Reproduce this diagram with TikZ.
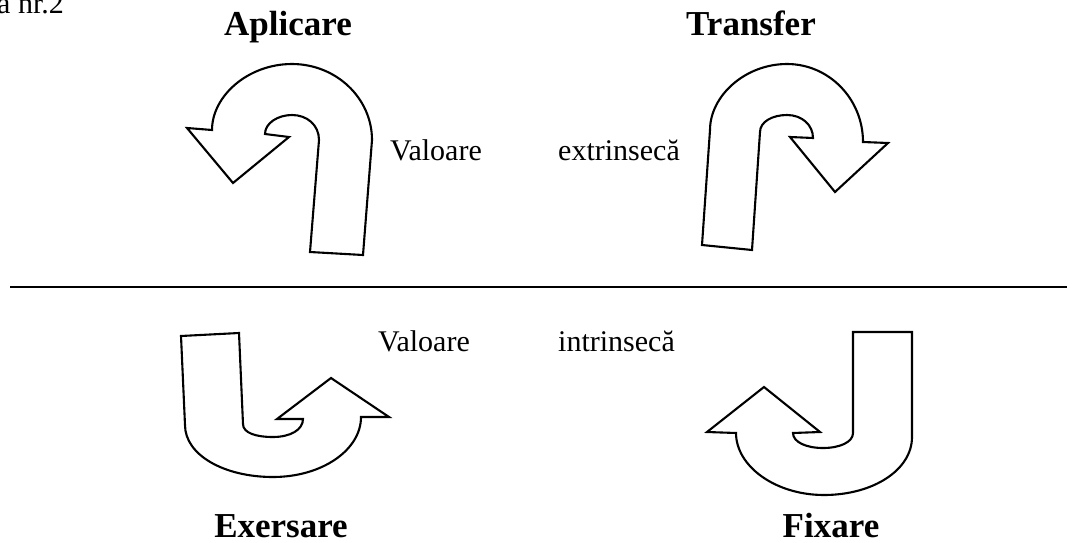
\documentclass[tikz,border=0pt]{standalone}
\usepackage{fontspec}
\setmainfont{Liberation Serif}
\begin{document}
\begin{tikzpicture}[x=1pt,y=-1pt,
  title/.style={font=\fontsize{35}{40}\selectfont\bfseries, inner sep=0pt, anchor=base},
  lbl/.style={font=\fontsize{30}{34}\selectfont, inner sep=0pt, anchor=base west},
  uarrow/.style={draw=black, line width=2.1pt, line join=miter, fill=white}]
\useasboundingbox (0,0) rectangle (1078,543);

% header fragment (cut at the top edge, as in the source)
\node[lbl] (hdr) at (-3,14) {a nr.2};

% titles
\node[title] (aplicare) at (288,36) {Aplicare};
\node[title] (transfer) at (751,36) {Transfer};
\node[title] (exersare) at (281,537) {Exersare};
\node[title] (fixare) at (831,537) {Fixare};

% labels
\node[lbl] (val1) at (390,160) {Valoare};
\node[lbl] (extr) at (558,160) {extrinsecă};
\node[lbl] (val2) at (378,351) {Valoare};
\node[lbl] (intr) at (558,351) {intrinsecă};

% separator
\coordinate (sepL) at (10,287);
\coordinate (sepR) at (1067,287);
\draw[line width=2.4pt] (sepL) -- (sepR);

% Aplicare arrow (U-turn to the left, pointing down)
\draw[uarrow] (310,252) -- (363,255) -- (372,140)
  .. controls (372,98) and (336,64) .. (292,64)
  .. controls (248,64) and (212,96) .. (212,130)
  -- (187,128) -- (233,183) -- (289,137) -- (265,134)
  .. controls (265,123) and (278,115) .. (292,115)
  .. controls (307,115) and (319,125) .. (319,140)
  -- cycle;

% Transfer arrow (U-turn to the right, pointing down)
\draw[uarrow] (702,245) -- (752,250) -- (760,132)
  .. controls (760,122) and (772,115) .. (787,115)
  .. controls (802,115) and (813,125) .. (813,138)
  -- (790,137) -- (835,192) -- (888,143) -- (863,142)
  .. controls (863,99) and (829,64) .. (787,64)
  .. controls (745,64) and (710,96) .. (710,130)
  -- cycle;

% Exersare arrow (J shape, pointing up on the right)
\draw[uarrow] (181,336) -- (239,333) -- (243,424)
  .. controls (243,433) and (256,437) .. (273,437)
  .. controls (290,437) and (303,430) .. (303,419)
  -- (277,419) -- (331,378) -- (389,417) -- (361,417)
  .. controls (361,450) and (322,477) .. (273,477)
  .. controls (224,477) and (185,455) .. (185,425)
  -- cycle;

% Fixare arrow (J shape, pointing up on the left)
\draw[uarrow] (853,332) -- (912,332) -- (912,437)
  .. controls (912,470) and (873,495) .. (824,495)
  .. controls (775,495) and (736,466) .. (736,433)
  -- (707,432) -- (764,387) -- (820,432) -- (793,433)
  .. controls (793,442) and (806,448) .. (823,448)
  .. controls (840,448) and (853,442) .. (853,433)
  -- cycle;
\end{tikzpicture}
\end{document}
